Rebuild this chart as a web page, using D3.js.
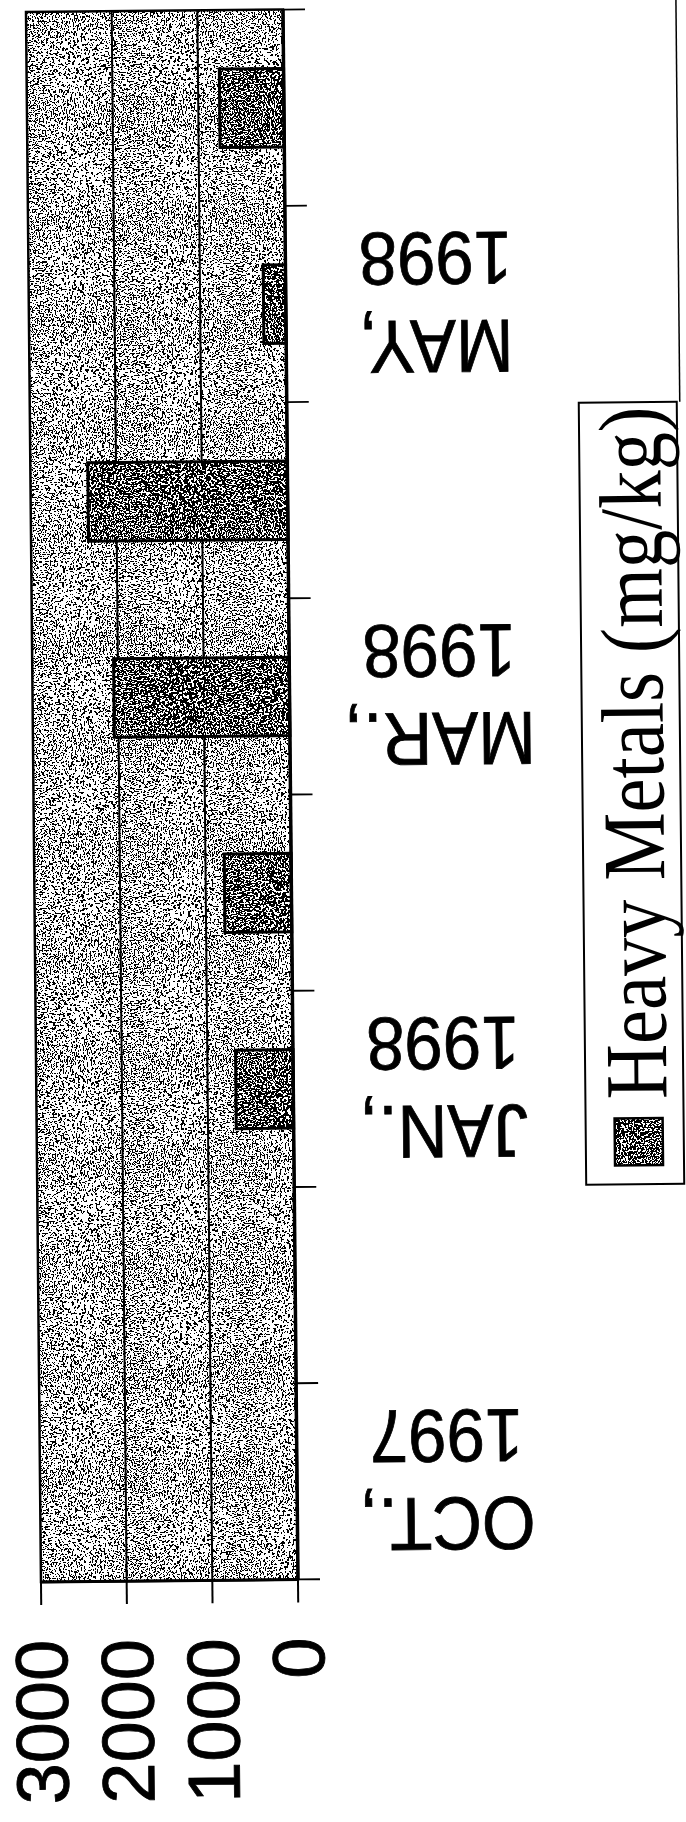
<!DOCTYPE html>
<html>
<head>
<meta charset="utf-8">
<script src="https://cdn.jsdelivr.net/npm/d3@7"></script>
<style>
  html, body { margin: 0; padding: 0; background: #fff; }
  svg { display: block; }
</style>
</head>
<body>
<svg id="chart" width="686" height="1822"></svg>
<script>
// Sampling dates (bottom to top along the category axis)
const categories = ["OCT., 1997", "DEC., 1997", "JAN., 1998", "FEB., 1998",
                    "MAR., 1998", "APR., 1998", "MAY, 1998", "JUN., 1998"];
// Only every second date carries a label
const categoryLabels = ["OCT., 1997", "", "JAN., 1998", "", "MAR., 1998", "", "MAY, 1998", ""];
// Heavy metals concentration, mg/kg (no sample for the first two dates)
const heavyMetals = [null, null, 670, 780, 2050, 2330, 260, 750];
const valueTicks = [0, 1000, 2000, 3000];
const seriesName = "Heavy Metals (mg/kg)";

const svg = d3.select("#chart");
const W = 686, H = 1822;
svg.append("rect").attr("width", W).attr("height", H).attr("fill", "#fff");

const defs = svg.append("defs");
function speckle(id, cut, seed) {
  const f = defs.append("filter").attr("id", id)
    .attr("x", 0).attr("y", 0).attr("width", 1).attr("height", 1)
    .attr("color-interpolation-filters", "sRGB");
  f.append("feTurbulence").attr("type", "fractalNoise")
    .attr("baseFrequency", 0.75).attr("numOctaves", 2).attr("seed", seed).attr("result", "noise");
  f.append("feColorMatrix").attr("in", "noise").attr("type", "matrix")
    .attr("values", `0 0 0 0 0  0 0 0 0 0  0 0 0 0 0  -6 0 0 0 ${cut}`).attr("result", "mask");
  f.append("feComponentTransfer").attr("in", "mask")
    .append("feFuncA").attr("type", "discrete").attr("tableValues", "0 1");
}
speckle("dotsLight", 3.28, 4);
speckle("dotsDark", 3.64, 9);

// plot frame
const L = 26, R = 283, T = 12, B = 1582;

// the whole sheet sits at a slight tilt
const g = svg.append("g").attr("transform", `rotate(-0.547 ${L} ${T})`);

const x = d3.scaleLinear().domain([0, 3000]).range([R, L]);
const y = d3.scaleBand().domain(categories).range([B, T])
  .paddingInner(0.6).paddingOuter(0.3);

function stippled(sel, filterId) {
  sel.each(function() {
    const s = d3.select(this);
    const a = s.attr("x"), b = s.attr("y"), w = s.attr("width"), h = s.attr("height");
    d3.select(this.parentNode).insert("rect", () => this.nextSibling)
      .attr("x", a).attr("y", b).attr("width", w).attr("height", h)
      .attr("fill", "#000").attr("filter", `url(#${filterId})`);
  });
}

// plot background
const bg = g.append("g");
bg.append("rect").attr("x", L).attr("y", T).attr("width", R - L).attr("height", B - T)
  .attr("fill", "#fff").call(stippled, "dotsLight");

// gridlines
g.append("g").selectAll("line")
  .data(valueTicks.filter(v => v > 0 && v < 3000))
  .join("line")
  .attr("x1", d => x(d)).attr("x2", d => x(d))
  .attr("y1", T).attr("y2", B)
  .attr("stroke", "#000").attr("stroke-width", 2);

// frame
g.append("rect").attr("x", L).attr("y", T).attr("width", R - L).attr("height", B - T)
  .attr("fill", "none").attr("stroke", "#000").attr("stroke-width", 2.5);

// bars
const data = categories.map((c, i) => ({ c, v: heavyMetals[i] })).filter(d => d.v != null);
const bars = g.append("g");
data.forEach(d => {
  const bx = x(d.v), by = y(d.c), bw = x(0) - x(d.v), bh = y.bandwidth();
  const bar = bars.append("g");
  bar.append("rect").attr("x", bx).attr("y", by).attr("width", bw).attr("height", bh)
    .attr("fill", "#fff").call(stippled, "dotsDark");
  bar.append("rect").attr("x", bx).attr("y", by).attr("width", bw).attr("height", bh)
    .attr("fill", "none").attr("stroke", "#000").attr("stroke-width", 3);
});

// category axis along the zero line
g.append("line").attr("x1", R).attr("x2", R).attr("y1", T).attr("y2", B)
  .attr("stroke", "#000").attr("stroke-width", 3.5);
g.append("line").attr("x1", L).attr("x2", R).attr("y1", B).attr("y2", B)
  .attr("stroke", "#000").attr("stroke-width", 3);
const step = y.step();
const bounds = categories.map(c => y(c) + y.bandwidth() + step * y.paddingInner() / 2)
  .concat([y(categories[categories.length - 1]) - step * y.paddingInner() / 2]);
g.append("g").selectAll("line").data(bounds).join("line")
  .attr("x1", R).attr("x2", R + 22).attr("y1", d => d).attr("y2", d => d)
  .attr("stroke", "#000").attr("stroke-width", 1.8);

// category labels (set upside down)
const catG = g.append("g")
  .attr("font-family", "'Liberation Sans', Arial, sans-serif")
  .attr("font-size", 75).attr("fill", "#000")
  .attr("stroke", "#000").attr("stroke-width", 0.8);
categories.forEach((c, i) => {
  const lbl = categoryLabels[i];
  if (!lbl) return;
  const cy = y(c) + y.bandwidth() / 2;
  const lines = lbl.split(" ");
  const t = catG.append("text")
    .attr("transform", `translate(${R + 150},${cy + 18}) rotate(180) scale(0.92,1)`)
    .attr("text-anchor", "middle");
  lines.forEach((ln, k) => {
    t.append("tspan").attr("x", 0).attr("y", k * 88).text(ln);
  });
});

// value axis ticks and labels
g.append("g").selectAll("line").data(valueTicks).join("line")
  .attr("x1", d => x(d)).attr("x2", d => x(d)).attr("y1", B).attr("y2", B + 23)
  .attr("stroke", "#000").attr("stroke-width", 2);
g.append("g").selectAll("text").data(valueTicks).join("text")
  .attr("transform", d => `translate(${x(d) - 1},${B + 58}) rotate(-90)`)
  .attr("text-anchor", "end").attr("dy", "0.36em")
  .attr("font-family", "'Liberation Sans', Arial, sans-serif")
  .attr("font-size", 74).attr("fill", "#000")
  .attr("stroke", "#000").attr("stroke-width", 0.8)
  .text(d => d);

// legend
const lg = g.append("g");
const lx = 575, ly = 408, lw = 98, lh = 782;
lg.append("line").attr("x1", lx + lw + 3).attr("x2", lx + lw + 3).attr("y1", -20).attr("y2", ly)
  .attr("stroke", "#000").attr("stroke-width", 1.5);
lg.append("rect").attr("x", lx).attr("y", ly).attr("width", lw).attr("height", lh)
  .attr("fill", "#fff").attr("stroke", "#000").attr("stroke-width", 2);
lg.append("rect").attr("x", lx + 29).attr("y", ly + 716).attr("width", 48).attr("height", 47)
  .attr("fill", "#fff").call(stippled, "dotsDark");
lg.append("rect").attr("x", lx + 29).attr("y", ly + 716).attr("width", 48).attr("height", 47)
  .attr("fill", "none").attr("stroke", "#000").attr("stroke-width", 2.5);
lg.append("text")
  .attr("transform", `translate(${lx + 81},${ly + 697}) rotate(-90) scale(1,1.16)`)
  .attr("text-anchor", "start")
  .attr("font-family", "'Liberation Serif', 'Times New Roman', serif")
  .attr("font-size", 76.5).attr("fill", "#000")
  .text(seriesName);
</script>
</body>
</html>
